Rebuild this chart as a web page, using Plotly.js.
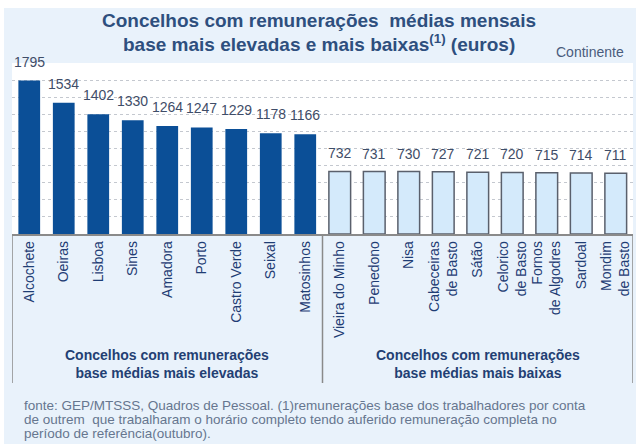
<!DOCTYPE html>
<html>
<head>
<meta charset="utf-8">
<script src="https://cdn.plot.ly/plotly-3.0.1.min.js"></script>
<style>
  html, body { margin: 0; padding: 0; background: #ffffff; }
  #chart { position: absolute; left: 4px; top: 8px; width: 632px; height: 436px; }
</style>
</head>
<body>
<div id="chart"></div>
<script>
// Data
const highNames = ["Alcochete", "Oeiras", "Lisboa", "Sines", "Amadora", "Porto", "Castro Verde", "Seixal", "Matosinhos"];
const highValues = [1795, 1534, 1402, 1330, 1264, 1247, 1229, 1178, 1166];
const lowNames = ["Vieira do Minho", "Penedono", "Nisa", "Cabeceiras<br>de Basto", "Sátão", "Celorico<br>de Basto", "Fornos<br>de Algodres", "Sardoal", "Mondim<br>de Basto"];
const lowValues = [732, 731, 730, 727, 721, 720, 715, 714, 711];
const groupLabels = ["Concelhos com remunerações<br>base médias mais elevadas", "Concelhos com remunerações<br>base médias mais baixas"];
const titleLines = ["Concelhos com remunerações  médias mensais", "base mais elevadas e mais baixas<sup>(1)</sup> (euros)"];
const regionText = "Continente";
const footLines = [
  "fonte: GEP/MTSSS, Quadros de Pessoal. (1)remunerações base dos trabalhadores por conta",
  "de outrem  que trabalharam o horário completo tendo auferido remuneração completa no",
  "período de referência(outubro)."
];

const FONT = "Liberation Sans, Arial, sans-serif";
const PL = 12, PR = 633, PT = 63, PB = 234;
const px2x = p => (p - PL) / (PR - PL);
const py2y = p => (PB - p) / (PB - PT);

const traces = [
  {
    type: "bar", x: highNames, y: highValues,
    marker: { color: "#0b4f97", line: { width: 0 } },
    hoverinfo: "x+y"
  },
  {
    type: "bar", x: lowNames, y: lowValues,
    marker: { color: "#d4eafb", line: { color: "#5a606c", width: 1.5 } },
    hoverinfo: "x+y"
  }
];

const annotations = [];
// title lines
[21, 43].forEach((py, i) => annotations.push({
  x: px2x(319), y: py2y(py), xref: "paper", yref: "paper", text: titleLines[i],
  showarrow: false, xanchor: "center", yanchor: "middle",
  font: { family: FONT, size: 19, color: "#2e4f7e", weight: "bold" }
}));
// value labels
highNames.forEach((n, i) => annotations.push({
  x: n, y: highValues[i], xref: "x", yref: "y", text: String(highValues[i]),
  showarrow: false, yanchor: "middle", yshift: 19,
  font: { family: FONT, size: 14, color: "#3f4d68" }
}));
lowNames.forEach((n, i) => annotations.push({
  x: n, y: lowValues[i], xref: "x", yref: "y", text: String(lowValues[i]),
  showarrow: false, yanchor: "middle", yshift: 18,
  font: { family: FONT, size: 14, color: "#3f4d68" }
}));
// group labels
[4, 13].forEach((c, i) => annotations.push({
  x: c, y: py2y(364), xref: "x", yref: "paper", text: groupLabels[i],
  showarrow: false, xanchor: "center", yanchor: "middle", align: "center",
  font: { family: FONT, size: 14, color: "#233f73", weight: "bold" }
}));
// region
annotations.push({
  x: px2x(626), y: py2y(52), xref: "paper", yref: "paper", text: regionText,
  showarrow: false, xanchor: "right", yanchor: "middle",
  font: { family: FONT, size: 14, color: "#4a5c7c" }
});
// footnote
[405, 419, 433].forEach((py, i) => annotations.push({
  x: px2x(22), y: py2y(py), xref: "paper", yref: "paper", text: footLines[i],
  showarrow: false, xanchor: "left", yanchor: "middle", align: "left",
  font: { family: FONT, size: 13.5, color: "#66768f" }
}));

const sepY1 = py2y(383);
const shapes = [-0.5, 8.5, 17.5].map(xv => ({
  type: "line", xref: "x", yref: "paper", x0: xv, x1: xv, y0: 0, y1: sepY1,
  line: { color: "#8a8a8a", width: 1.5 }
}));

const layout = {
  width: 632, height: 436,
  margin: { l: PL - 4, r: 636 - PR, t: PT - 8, b: 444 - PB, pad: 0 },
  paper_bgcolor: "#e9f2fb",
  plot_bgcolor: "#ffffff",
  showlegend: false,
  barmode: "overlay",
  bargap: 0.37,
  xaxis: {
    type: "category",
    categoryorder: "array",
    categoryarray: highNames.concat(lowNames),
    range: [-0.5, 17.5],
    showline: true, linecolor: "#8a8a8a", linewidth: 1.5,
    ticks: "", tickangle: -90,
    tickfont: { family: FONT, size: 14, color: "#1f3d74" },
    showgrid: false, zeroline: false, fixedrange: true
  },
  yaxis: {
    range: [0, 2000], dtick: 200,
    showticklabels: false, ticks: "",
    showgrid: true, gridcolor: "#c4c8cf", griddash: "dot", gridwidth: 1,
    zeroline: false, showline: false, fixedrange: true
  },
  annotations: annotations,
  shapes: shapes
};

Plotly.newPlot("chart", traces, layout, { displayModeBar: false, staticPlot: true });
</script>
</body>
</html>
